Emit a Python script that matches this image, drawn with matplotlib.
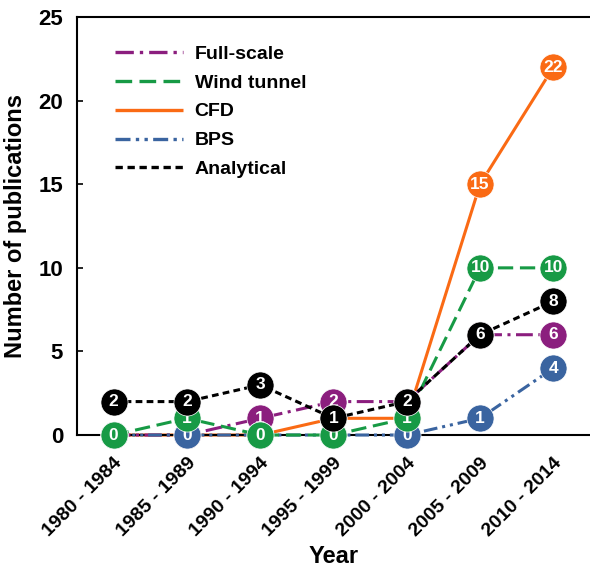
import matplotlib
matplotlib.use("Agg")
import matplotlib.pyplot as plt
from matplotlib.lines import Line2D

categories = ["1980 - 1984", "1985 - 1989", "1990 - 1994", "1995 - 1999",
              "2000 - 2004", "2005 - 2009", "2010 - 2014"]
full_scale = [0, 0, 1, 2, 2, 6, 6]
wind_tunnel = [0, 1, 0, 0, 1, 10, 10]
cfd = [0, 0, 0, 1, 1, 15, 22]
bps = [0, 0, 0, 0, 0, 1, 4]
analytical = [2, 2, 3, 1, 2, 6, 8]
y_ticks = [0, 5, 10, 15, 20, 25]

plt.rcParams['font.family'] = ['Liberation Sans', 'DejaVu Sans']

fig = plt.figure(figsize=(5.9, 5.7), dpi=100)
ax = fig.add_axes([0.1305, 0.2368, 0.8695, 0.7332])

x = list(range(len(categories)))
styles = {
    "CFD": ("#FA6A14", (0, ()), 2),
    "Full-scale": ("#8B1E7E", (0, (5.5, 1.8, 1, 1.8)), 3),
    "BPS": ("#3A64A0", (0, (4.5, 1.6, 1, 1.6, 1, 1.6)), 4),
    "Wind tunnel": ("#179A45", (0, (5, 2.2)), 5),
    "Analytical": ("#000000", (0, (2.2, 1.4)), 6),
}
data = {"CFD": cfd, "Full-scale": full_scale, "BPS": bps,
        "Wind tunnel": wind_tunnel, "Analytical": analytical}

for name in ["CFD", "Full-scale", "BPS", "Wind tunnel", "Analytical"]:
    col, ls, z = styles[name]
    vals = data[name]
    ax.plot(x, vals, color=col, linestyle=ls, lw=2.2, zorder=z,
            marker='o', markersize=19.5, markerfacecolor=col,
            markeredgecolor='white', markeredgewidth=0.5, clip_on=False)
    for xi, v in zip(x, vals):
        ax.text(xi, v, str(v), color='white', fontsize=12.5, fontweight='bold',
                ha='center', va='center', zorder=z + 0.5, clip_on=False)

order = ["Full-scale", "Wind tunnel", "CFD", "BPS", "Analytical"]
leg_handles = [Line2D([0], [0], color=styles[nm][0], linestyle=styles[nm][1], lw=2.4)
               for nm in order]
ax.legend(leg_handles, order, loc='upper left', bbox_to_anchor=(0.04, 0.975),
          frameon=False, prop={'weight': 'bold', 'size': 14},
          handlelength=3.5, handletextpad=0.6, labelspacing=0.58)

ax.set_xlim(-0.5, 6.5)
ax.set_ylim(0, 25)
ax.set_yticks(y_ticks)
ax.set_xticks(x)
ax.set_xticklabels(categories, rotation=45, ha='right', rotation_mode='anchor',
                   fontsize=14, fontweight='bold')
for lab in ax.get_yticklabels():
    lab.set_fontsize(16)
    lab.set_fontweight('bold')
ax.tick_params(axis='x', length=0, pad=14)
ax.tick_params(axis='y', length=4, width=1.2, direction='in', pad=10)
ax.spines['right'].set_visible(False)
for s in ['left', 'top', 'bottom']:
    ax.spines[s].set_linewidth(1.5)
ax.set_ylabel("Number of publications", fontsize=17, fontweight='bold', labelpad=8)
ax.set_xlabel("Year", fontsize=17, fontweight='bold', labelpad=4)

fig.savefig("out.png", dpi=100)
